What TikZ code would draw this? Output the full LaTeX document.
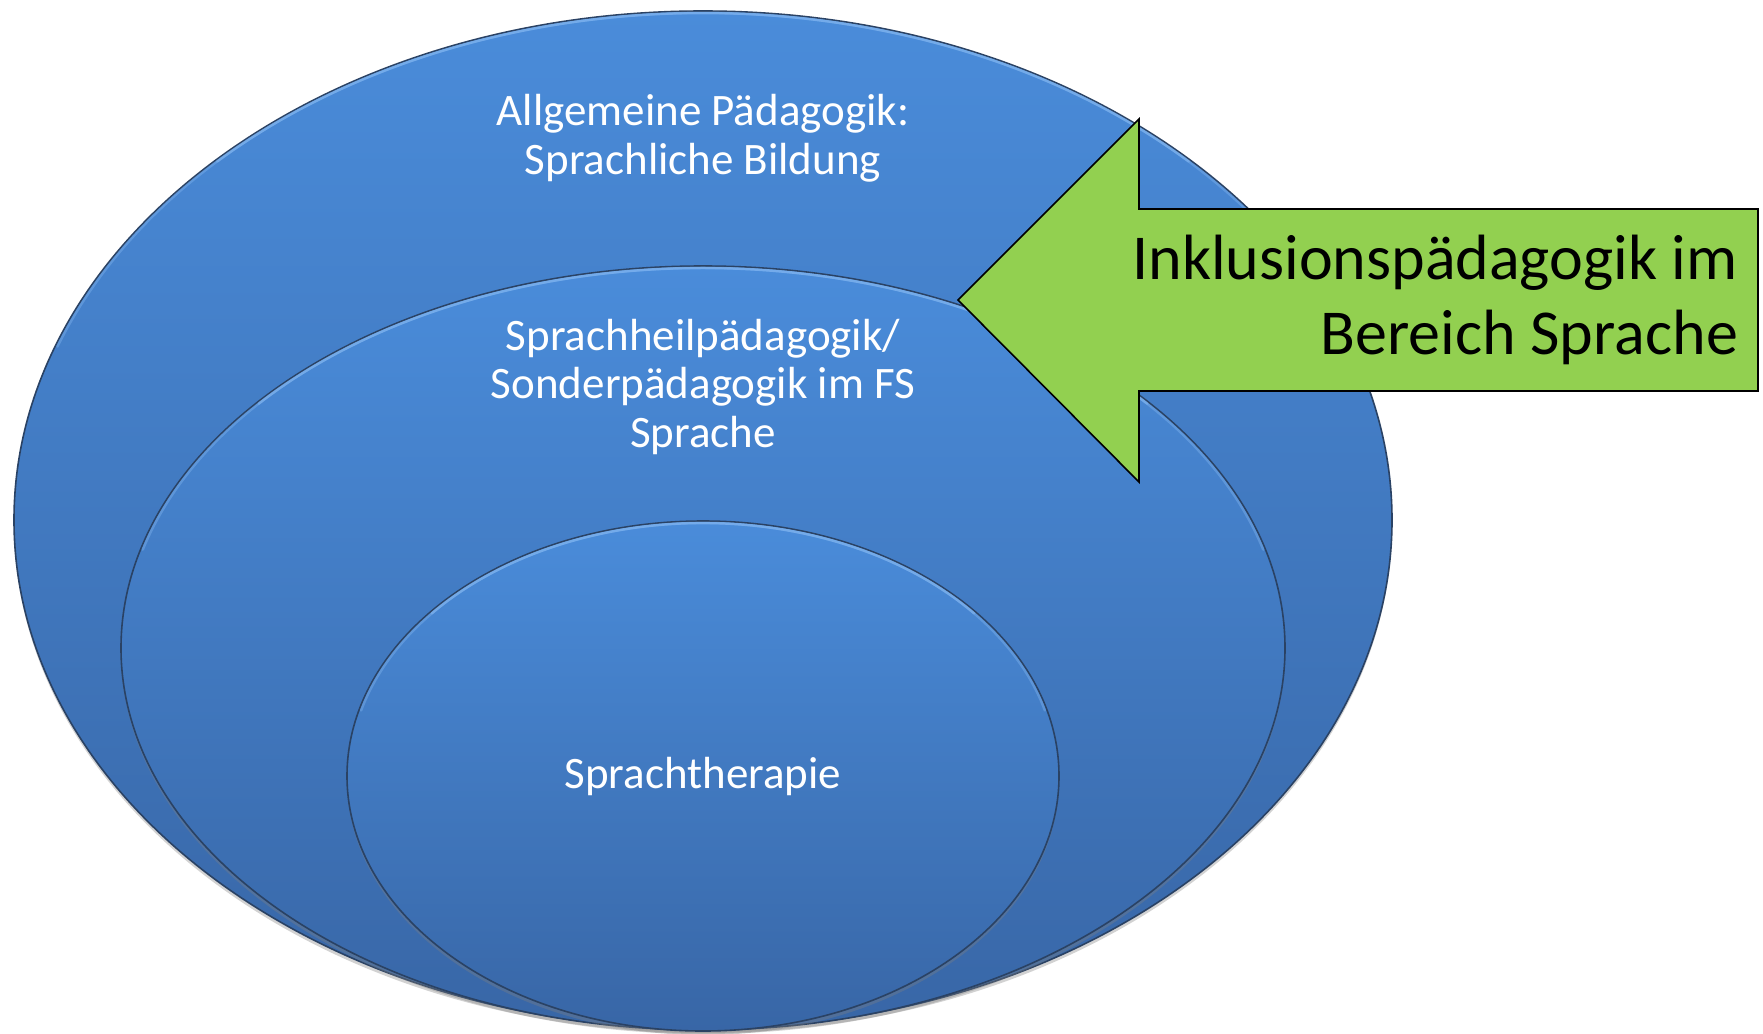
\documentclass[tikz,border=0pt]{standalone}
\usepackage{fontspec}
\setmainfont{Carlito}
\usetikzlibrary{shadows}
\definecolor{blueTop}{RGB}{74,140,218}
\definecolor{blueBot}{RGB}{56,102,166}
\definecolor{rimC}{RGB}{42,66,100}
\definecolor{glowC}{RGB}{140,190,245}
\definecolor{greenA}{RGB}{146,208,80}
\tikzset{
  ring/.style={draw=rimC, line width=1.6pt, top color=blueTop, bottom color=blueBot,
    drop shadow={opacity=0.35, shadow xshift=0pt, shadow yshift=-4pt}},
  glowa/.style={draw=glowC, line width=2.5pt, opacity=0.35, line cap=round},
  glowb/.style={draw=glowC, line width=2.5pt, opacity=0.45, line cap=round},
  wlabel/.style={text=white, font=\fontsize{45}{48.5}\selectfont, align=center, inner sep=0pt},
  blabel/.style={text=black, font=\fontsize{64}{75}\selectfont, align=right, inner sep=0pt},
  arrowbox/.style={fill=greenA, draw=black, line width=1.6pt, line join=miter}
}
\begin{document}
\begin{tikzpicture}[x=1pt,y=-1pt]
\useasboundingbox (0,0) rectangle (1763,1033);
\fill[white] (0,0) rectangle (1763,1033);
% outer ellipse
\draw[ring] (703,520) ellipse [x radius=689, y radius=509];
\draw[glowa] (703,520) ++(160:687 and -507) arc [start angle=160, end angle=20, x radius=687, y radius=-507];
\draw[glowb] (703,520) ++(135:687 and -507) arc [start angle=135, end angle=45, x radius=687, y radius=-507];
% middle ellipse
\draw[ring] (703,648) ellipse [x radius=582, y radius=382];
\draw[glowa] (703,648) ++(165:580 and -380) arc [start angle=165, end angle=15, x radius=580, y radius=-380];
\draw[glowb] (703,648) ++(140:580 and -380) arc [start angle=140, end angle=40, x radius=580, y radius=-380];
% inner ellipse
\draw[ring] (703,776) ellipse [x radius=356, y radius=255];
\draw[glowa] (703,776) ++(165:354 and -253) arc [start angle=165, end angle=15, x radius=354, y radius=-253];
\draw[glowb] (703,776) ++(140:354 and -253) arc [start angle=140, end angle=40, x radius=354, y radius=-253];
% arrow
\draw[arrowbox] (958,300) -- (1139,119) -- (1139,209) -- (1758,209) -- (1758,391) -- (1139,391) -- (1139,482) -- cycle;
% labels (base anchor = baseline of the last line)
\node[wlabel, anchor=base] (allg) at (703,174) {Allgemeine Pädagogik:\\Sprachliche Bildung};
\node[wlabel, anchor=base] (heil) at (703,447) {Sprachheilpädagogik/\\Sonderpädagogik im FS\\Sprache};
\node[wlabel, anchor=base] (ther) at (703,788) {Sprachtherapie};
\node[blabel, anchor=base east] (inkl) at (1738,354) {Inklusionspädagogik im\\Bereich Sprache};
\end{tikzpicture}
\end{document}
